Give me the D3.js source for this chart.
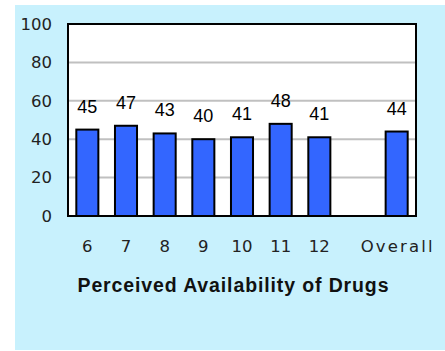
<!DOCTYPE html>
<html><head><meta charset="utf-8">
<script src="https://cdn.jsdelivr.net/npm/d3@7"></script>
<style>body{margin:0;background:#fff}svg{display:block}</style>
</head><body>
<script>
const categories = ["6","7","8","9","10","11","12","","Overall"];
const values = [45,47,43,40,41,48,41,null,44];
const yTicks = [0,20,40,60,80,100];
const xTitle = "Perceived Availability of Drugs";

const W=445,H=351;
const svg=d3.select("body").append("svg").attr("width",W).attr("height",H);
svg.append("rect").attr("x",15).attr("y",5).attr("width",W-15).attr("height",345).attr("fill","#c8f1fd");

const m={l:68,t:24,r:416,b:216};
const x=d3.scaleBand().domain(categories).range([m.l,m.r]).paddingInner(0.43).paddingOuter(0.215);
const y=d3.scaleLinear().domain([0,100]).range([m.b,m.t]);

svg.append("rect").attr("x",m.l).attr("y",m.t).attr("width",m.r-m.l).attr("height",m.b-m.t).attr("fill","#fff");

svg.append("g").selectAll("line").data(yTicks.filter(d=>d>0&&d<100)).join("line")
  .attr("x1",m.l).attr("x2",m.r).attr("y1",d=>y(d)).attr("y2",d=>y(d))
  .attr("stroke","#c0c0c0").attr("stroke-width",2);

const data=categories.map((c,i)=>({c,v:values[i]})).filter(d=>d.v!=null);
svg.append("g").selectAll("rect").data(data).join("rect")
  .attr("x",d=>x(d.c)).attr("width",x.bandwidth())
  .attr("y",d=>y(d.v)).attr("height",d=>y(0)-y(d.v))
  .attr("fill","#3366ff").attr("stroke","#000").attr("stroke-width",2);

svg.append("rect").attr("x",m.l).attr("y",m.t).attr("width",m.r-m.l).attr("height",m.b-m.t)
  .attr("fill","none").attr("stroke","#000").attr("stroke-width",2);

svg.append("g").selectAll("text").data(data).join("text")
  .attr("x",d=>x(d.c)+x.bandwidth()/2).attr("y",d=>y(d.v)-17)
  .attr("text-anchor","middle").attr("font-family","Liberation Sans, Arial, sans-serif")
  .attr("font-size",18).attr("fill","#000").text(d=>d.v);

// y axis labels
const yAxis=d3.axisLeft(y).tickValues(yTicks).tickSize(0).tickPadding(0);
const gy=svg.append("g").attr("transform",`translate(52,0)`).call(yAxis);
gy.select(".domain").remove();
gy.selectAll("text").attr("font-family","DejaVu Sans, sans-serif").attr("font-size",16.5).attr("fill","#222");

// x axis labels
const xAxis=d3.axisBottom(x).tickSize(0).tickPadding(0);
const gx=svg.append("g").attr("transform",`translate(0,240)`).call(xAxis);
gx.select(".domain").remove();
gx.selectAll("text").attr("font-family","DejaVu Sans, sans-serif").attr("font-size",16.5).attr("fill","#222")
  .attr("dy","0.71em");
gx.selectAll("text").filter(d=>d==="Overall").attr("textLength",72).attr("lengthAdjust","spacing");

svg.append("text").attr("x",233).attr("y",292).attr("text-anchor","middle")
  .attr("font-family","Liberation Sans, Arial, sans-serif").attr("font-weight","bold")
  .attr("font-size",19.5).attr("fill","#111").attr("textLength",311).attr("lengthAdjust","spacing")
  .text(xTitle);
</script>
</body></html>
